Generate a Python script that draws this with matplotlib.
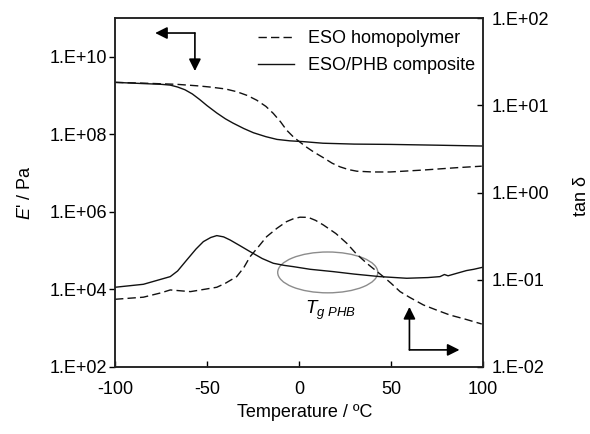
import numpy as np
import matplotlib
matplotlib.use("Agg")
import matplotlib.pyplot as plt
from matplotlib.patches import Ellipse
from matplotlib.ticker import FixedLocator, FuncFormatter, NullLocator

plt.rcParams['font.family'] = ['Liberation Sans', 'DejaVu Sans']
plt.rcParams['mathtext.fontset'] = 'custom'
plt.rcParams['mathtext.rm'] = 'Liberation Sans'
plt.rcParams['mathtext.it'] = 'Liberation Sans:italic'
plt.rcParams['axes.unicode_minus'] = False

# ---- data ----
series_names = ["ESO homopolymer", "ESO/PHB composite"]

# storage modulus E' (Pa), left axis
T_E_homo = [-100, -85, -66.5, -55, -48.4, -40, -33.9, -28, -23, -18, -14, -10,
            -6.8, -3, 0.5, 4, 8, 13.2, 18, 22.3, 27, 31.4, 40, 49.5, 67.5,
            85.7, 99.3]
E_homo = [2.19e9, 2.09e9, 1.95e9, 1.78e9, 1.66e9, 1.48e9, 1.26e9, 1.0e9,
          7.6e8, 5.25e8, 3.47e8, 2.09e8, 1.29e8, 8.5e7, 6.3e7, 4.7e7, 3.5e7,
          2.5e7, 1.8e7, 1.45e7, 1.23e7, 1.12e7, 1.07e7, 1.07e7, 1.2e7,
          1.38e7, 1.51e7]

T_E_comp = [-100, -85, -75, -70, -66, -62, -58, -54, -50, -44.7, -40, -35.9,
            -30, -24.8, -18, -12, -5, 2, 13, 30, 49.5, 75, 99.3]
E_comp = [2.19e9, 2.04e9, 1.95e9, 1.86e9, 1.66e9, 1.41e9, 1.10e9, 7.9e8,
          5.5e8, 3.55e8, 2.51e8, 1.95e8, 1.41e8, 1.10e8, 8.7e7, 7.4e7, 6.8e7,
          6.5e7, 5.9e7, 5.6e7, 5.5e7, 5.25e7, 5.0e7]

# tan delta, right axis
T_tan_homo = [-100, -84.6, -75, -70, -59, -44.7, -40, -33.9, -30, -26.6, -22,
              -17.6, -12, -6.8, -3, 0.5, 5, 9, 13.2, 20, 25.9, 31, 36.8,
              45.8, 50, 54.9, 60, 67.6, 75, 82, 90, 99.3]
tan_homo = [0.0597, 0.0631, 0.0708, 0.0764, 0.0731, 0.082, 0.0912, 0.1086,
            0.138, 0.1841, 0.2399, 0.3119, 0.389, 0.4634, 0.501, 0.5212,
            0.5188, 0.479, 0.4246, 0.3388, 0.2624, 0.1995, 0.1545, 0.1086,
            0.0912, 0.0731, 0.063, 0.0514, 0.0447, 0.0394, 0.0355, 0.0311]

T_tan_comp = [-100, -84.6, -70, -66, -61, -56, -52, -48, -44.7, -41, -37.5,
              -32, -26.6, -20, -14, -8, -3.1, 6, 18.6, 30, 44, 58.5, 70, 76.6,
              79, 81, 86, 91, 95, 99.8]
tan_comp = [0.082, 0.0887, 0.1086, 0.126, 0.1687, 0.225, 0.2735, 0.305,
            0.3206, 0.31, 0.2858, 0.245, 0.2099, 0.175, 0.1545, 0.146, 0.1413,
            0.1318, 0.1239, 0.1161, 0.1086, 0.104, 0.1059, 0.1086, 0.1148,
            0.111, 0.119, 0.1274, 0.1318, 0.139]

x_ticks = [-100, -50, 0, 50, 100]
left_ticks = [1e2, 1e4, 1e6, 1e8, 1e10]
right_ticks = [1e-2, 1e-1, 1e0, 1e1, 1e2]

# ---- figure ----
fig = plt.figure(figsize=(5.9, 4.34), dpi=100)
ax = fig.add_axes([0.195, 0.1544, 0.6237, 0.8041])
ax2 = ax.twinx()

lc = '#111111'
l1, = ax.plot(T_E_homo, E_homo, color=lc, lw=1.0, dashes=(6, 3))
l2, = ax.plot(T_E_comp, E_comp, color=lc, lw=1.0)
ax2.plot(T_tan_homo, tan_homo, color=lc, lw=1.0, dashes=(6, 3))
ax2.plot(T_tan_comp, tan_comp, color=lc, lw=1.0)

ax.set_yscale('log')
ax2.set_yscale('log')
ax.set_xlim(-100, 100)
ax.set_ylim(1e2, 1e11)
ax2.set_ylim(1e-2, 1e2)

def fmt(v, pos):
    e = int(round(np.log10(v)))
    return f"1.E{e:+03d}"

ax.yaxis.set_major_locator(FixedLocator(left_ticks))
ax.yaxis.set_minor_locator(NullLocator())
ax.yaxis.set_major_formatter(FuncFormatter(fmt))
ax2.yaxis.set_major_locator(FixedLocator(right_ticks))
ax2.yaxis.set_minor_locator(NullLocator())
ax2.yaxis.set_major_formatter(FuncFormatter(fmt))
ax.xaxis.set_major_locator(FixedLocator(x_ticks))

fs = 13
ax.tick_params(axis='x', direction='in', length=4, width=1.0, labelsize=fs, pad=10, top=False)
ax.tick_params(axis='y', direction='out', length=4, width=1.0, labelsize=fs, pad=1.5)
ax2.tick_params(axis='y', direction='in', length=4, width=1.0, labelsize=fs, pad=6)

for a in (ax, ax2):
    for s in a.spines.values():
        s.set_linewidth(1.1)
        s.set_color('#222222')

ax.set_xlabel("Temperature / ºC", fontsize=fs, va='center', ha='center')
ax.xaxis.set_label_coords(0.515, -0.129)
ax.set_ylabel("$E$' / Pa", fontsize=fs, va='center', ha='center')
ax.yaxis.set_label_coords(-0.243, 0.5)
ax2.set_ylabel("tan δ", fontsize=fs, va='center', ha='center')
ax2.yaxis.set_label_coords(1.268, 0.49)

ax.legend([l1, l2], series_names, loc='upper left', bbox_to_anchor=(0.389, 0.965),
          frameon=False, fontsize=fs, handlelength=2.0, handletextpad=0.75,
          labelspacing=0.55, borderpad=0, borderaxespad=0)

# ellipse marking Tg PHB
ax2.add_patch(Ellipse((0.578, 0.271), 0.272, 0.117, transform=ax.transAxes,
                      facecolor='none', edgecolor='#8c8c8c', lw=1.0))
ax2.text(0.516, 0.152, r'$T_{g\ PHB}$', transform=ax.transAxes, fontsize=13.5,
         ha='left', va='baseline')

# arrows
ap = dict(arrowstyle='-|>', color='black', lw=1.2, mutation_scale=18, shrinkA=0, shrinkB=0)
ax.annotate('', xy=(0.109, 0.957), xytext=(0.217, 0.957), xycoords='axes fraction', arrowprops=ap)
ax.annotate('', xy=(0.217, 0.848), xytext=(0.217, 0.957), xycoords='axes fraction', arrowprops=ap)
ax.annotate('', xy=(0.800, 0.172), xytext=(0.800, 0.049), xycoords='axes fraction', arrowprops=ap)
ax.annotate('', xy=(0.936, 0.049), xytext=(0.800, 0.049), xycoords='axes fraction', arrowprops=ap)

fig.savefig("out.png", dpi=100)
